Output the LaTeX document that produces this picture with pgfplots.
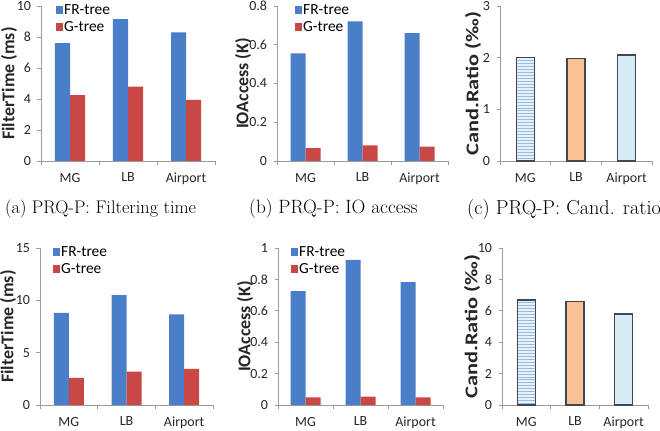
\documentclass[border=0pt]{standalone}
\usepackage{fontspec}
\usepackage{pgfplots}
\pgfplotsset{compat=1.18}
\usetikzlibrary{patterns}
\newfontfamily\calfont{Carlito}

\definecolor{frblue}{RGB}{74,126,200}
\definecolor{gred}{RGB}{200,72,70}
\definecolor{axgray}{RGB}{155,155,155}
\definecolor{edge}{RGB}{62,72,84}
\definecolor{mgfill}{RGB}{232,240,250}
\definecolor{mgline}{RGB}{150,190,225}
\definecolor{lbfill}{RGB}{250,192,145}
\definecolor{apfill}{RGB}{214,236,244}

\pgfplotsset{
  panel/.style={
    scale only axis,
    axis x line*=bottom, axis y line*=left,
    axis line style={axgray, line width=0.9bp},
    xmin=-0.5, xmax=2.5,
    xtick={0,1,2}, xticklabels={MG,LB,Airport},
    minor xtick={-0.5,0.5,1.5,2.5},
    tick align=outside,
    major x tick style={draw=none},
    every tick/.style={axgray, line width=0.8bp},
    major tick length=3.5bp, minor tick length=4bp,
    ymin=0,
    tick label style={font=\calfont\fontsize{14}{14}\selectfont, text=black!85},
    /pgf/number format/assume math mode=true,
    xticklabel style={yshift=-5bp},
    yticklabel style={xshift=-3bp},
    clip=false,
  },
  ylab/.style={
    every axis y label/.style={
      at={([xshift=#1]axis description cs:0,0.5)},
      rotate=90, anchor=center,
      font=\calfont\bfseries\fontsize{18}{18}\selectfont, text=black!85},
  },
  twobar/.style={
    ybar=0pt, bar width=15bp,
    legend style={draw=none, fill=none, anchor=north west,
      at={([xshift=#1, yshift=5bp]rel axis cs:0,1)},
      font=\calfont\fontsize{15.5}{15.5}\selectfont,
      nodes={inner sep=1bp}, row sep=4bp},
    legend cell align=left,
    legend image code/.code={\fill[##1] (0bp,-4bp) rectangle (7bp,4bp);},
  },
  frbar/.style={fill=frblue, draw=none},
  gbar/.style={fill=gred, draw=none},
  ratiobar/.style={ybar, bar width=18bp, bar shift=0pt, draw=edge, line width=1.6bp},
}

\begin{document}
\begin{tikzpicture}
\clip (0,0) rectangle (660bp,431bp);

% ---- top row ----
\begin{axis}[panel, twobar=12bp, ylab=-32bp,
  at={(41bp,270bp)}, anchor=south west, width=174bp, height=155bp,
  ymax=10, ytick={0,2,4,6,8,10}, ylabel={FilterTime (ms)}]
\addplot[frbar] coordinates {(0,7.6) (1,9.15) (2,8.3)};
\addplot[gbar] coordinates {(0,4.25) (1,4.8) (2,3.95)};
\legend{FR-tree, G-tree}
\end{axis}

\begin{axis}[panel, twobar=15bp, ylab=-34bp,
  at={(277bp,270bp)}, anchor=south west, width=171bp, height=155bp,
  ymax=0.8, ytick={0,0.2,0.4,0.6,0.8}, ylabel={IOAccess (K)}]
\addplot[frbar] coordinates {(0,0.556) (1,0.72) (2,0.66)};
\addplot[gbar] coordinates {(0,0.066) (1,0.08) (2,0.074)};
\legend{FR-tree, G-tree}
\end{axis}

\begin{axis}[panel, ylab=-27bp,
  at={(500bp,270bp)}, anchor=south west, width=152bp, height=155bp,
  ymax=3, ytick={0,1,2,3}, ylabel={Cand.Ratio (‰)},
  ylabel style={xscale=1.25}]
\addplot[ratiobar, fill=mgfill, postaction={pattern=horizontal lines, pattern color=mgline}] coordinates {(0,2.0)};
\addplot[ratiobar, fill=lbfill] coordinates {(1,1.98)};
\addplot[ratiobar, fill=apfill] coordinates {(2,2.05)};
\end{axis}

% ---- bottom row ----
\begin{axis}[panel, twobar=10bp, ylab=-32bp,
  at={(40bp,26bp)}, anchor=south west, width=173bp, height=157bp,
  ymax=15, ytick={0,5,10,15}, ylabel={FilterTime (ms)}]
\addplot[frbar] coordinates {(0,8.8) (1,10.5) (2,8.65)};
\addplot[gbar] coordinates {(0,2.6) (1,3.2) (2,3.45)};
\legend{FR-tree, G-tree}
\end{axis}

\begin{axis}[panel, twobar=10bp, ylab=-33bp,
  at={(278bp,26bp)}, anchor=south west, width=165bp, height=157bp,
  ymax=1, ytick={0,0.2,0.4,0.6,0.8,1}, ylabel={IOAccess (K)}]
\addplot[frbar] coordinates {(0,0.725) (1,0.925) (2,0.782)};
\addplot[gbar] coordinates {(0,0.048) (1,0.053) (2,0.048)};
\legend{FR-tree, G-tree}
\end{axis}

\begin{axis}[panel, ylab=-30bp,
  at={(502bp,26bp)}, anchor=south west, width=146bp, height=157bp,
  ymax=10, ytick={0,2,4,6,8,10}, ylabel={Cand.Ratio (‰)},
  ylabel style={xscale=1.25}]
\addplot[ratiobar, fill=mgfill, postaction={pattern=horizontal lines, pattern color=mgline}] coordinates {(0,6.7)};
\addplot[ratiobar, fill=lbfill] coordinates {(1,6.6)};
\addplot[ratiobar, fill=apfill] coordinates {(2,5.78)};
\end{axis}

% ---- sub-figure captions ----
\begin{scope}[every node/.style={inner sep=0pt}]
\node[anchor=west, font=\fontsize{18.3}{18.3}\selectfont] at (5bp,222bp) {(a) PRQ-P: Filtering time};
\node[anchor=west, font=\fontsize{19.3}{19.3}\selectfont] at (249bp,222bp) {(b) PRQ-P: IO access};
\node[anchor=west, font=\fontsize{20.3}{20.3}\selectfont] at (467bp,222bp) {(c) PRQ-P: Cand. ratio};
\end{scope}
\end{tikzpicture}
\end{document}
